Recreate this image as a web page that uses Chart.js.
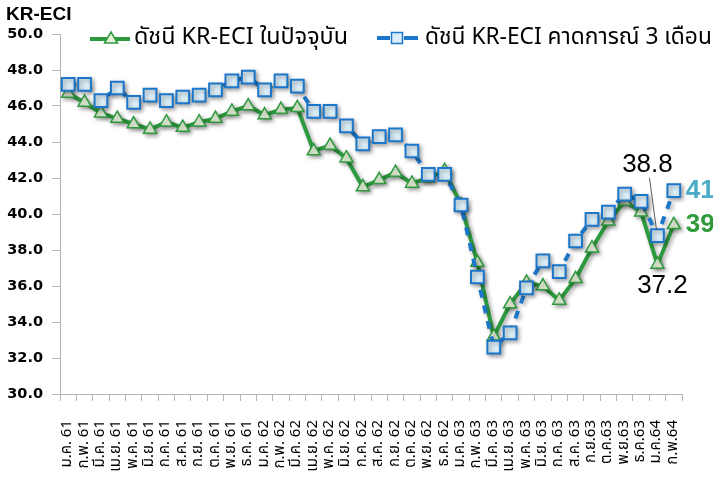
<!DOCTYPE html>
<html><head><meta charset="utf-8">
<script src="https://cdn.jsdelivr.net/npm/chart.js@4.4.1/dist/chart.umd.min.js"></script>
<style>html,body{margin:0;padding:0;background:#fff;}#wrap{width:713px;height:477px;}</style>
</head><body><div id="wrap"><canvas id="c" width="713" height="477"></canvas></div>
<script>
const categories = ['ม.ค. 61','ก.พ. 61','มี.ค. 61','เม.ย. 61','พ.ค. 61','มิ.ย. 61','ก.ค. 61','ส.ค. 61','ก.ย. 61','ต.ค. 61','พ.ย. 61','ธ.ค. 61',
'ม.ค. 62','ก.พ. 62','มี.ค. 62','เม.ย. 62','พ.ค. 62','มิ.ย. 62','ก.ค. 62','ส.ค. 62','ก.ย. 62','ต.ค. 62','พ.ย. 62','ธ.ค. 62',
'ม.ค. 63','ก.พ. 63','มี.ค. 63','เม.ย. 63','พ.ค. 63','มิ.ย. 63','ก.ค. 63','ส.ค. 63','ก.ย.63','ต.ค.63','พ.ย.63','ธ.ค.63',
'ม.ค.64','ก.พ.64'];
const currentIndex = [46.7,46.2,45.6,45.3,45.0,44.7,45.1,44.8,45.1,45.3,45.7,46.0,45.5,45.8,45.9,43.5,43.8,43.1,41.5,41.9,42.3,41.7,42.0,42.4,40.5,37.3,33.2,35.0,36.2,36.0,35.2,36.4,38.1,39.6,40.7,40.1,37.2,39.4];
const forecastIndex = [47.2,47.2,46.3,47.0,46.2,46.6,46.3,46.5,46.6,46.9,47.4,47.6,46.9,47.4,47.1,45.7,45.7,44.9,43.9,44.3,44.4,43.5,42.2,42.2,40.5,36.5,32.6,33.4,35.9,37.4,36.8,38.5,39.7,40.1,41.1,40.7,38.8,41.3];
const yTicks = [30,32,34,36,38,40,42,44,46,48,50];
const seriesNames = ['ดัชนี KR-ECI ในปัจจุบัน','ดัชนี KR-ECI คาดการณ์ 3 เดือน'];
const axisTitle = 'KR-ECI';

const GREEN = '#2e9a3f', GREEN_FILL = '#e6f1d8';
const BLUE = '#1c76c9', BLUE_FILL = '#dbeef8';
const THAI = '"Noto Sans Thai","Noto Sans","Loma","Garuda",sans-serif';

function fitFont(ctx, text, target, weight, fam){
  ctx.font = weight + ' 20px ' + fam;
  const w = ctx.measureText(text).width;
  return 20 * target / w;
}

const shadowPlugin = {
  id: 'shadow',
  beforeDatasetsDraw(chart){ const c = chart.ctx; c.save(); c.shadowColor='rgba(0,0,0,0.35)'; c.shadowBlur=4; c.shadowOffsetX=2; c.shadowOffsetY=2; },
  afterDatasetsDraw(chart){ chart.ctx.restore(); }
};

const extras = {
  id: 'extras',
  afterDraw(chart){
    const c = chart.ctx;
    const xs = chart.scales.x, ys = chart.scales.y;
    c.save();
    c.fillStyle = '#000';
    c.font = 'bold 19px "Liberation Sans",Arial,sans-serif';
    c.textAlign = 'left'; c.textBaseline = 'middle';
    c.fillText(axisTitle, 6, 15);
    // legend 1
    c.lineWidth = 4; c.strokeStyle = GREEN; c.setLineDash([]);
    c.beginPath(); c.moveTo(90,39); c.lineTo(130,39); c.stroke();
    c.lineWidth = 1.5; c.fillStyle = GREEN_FILL;
    c.beginPath(); c.moveTo(111,32); c.lineTo(117.5,43); c.lineTo(104.5,43); c.closePath(); c.fill(); c.stroke();
    let fs = fitFont(c, seriesNames[0], 214, 'normal', THAI);
    c.font = fs.toFixed(2) + 'px ' + THAI; c.fillStyle = '#000';
    c.fillText(seriesNames[0], 134, 39);
    // legend 2
    c.lineWidth = 4; c.strokeStyle = BLUE;
    c.beginPath(); c.moveTo(377,38); c.lineTo(390,38); c.moveTo(404,38); c.lineTo(418,38); c.stroke();
    c.lineWidth = 1.5; c.fillStyle = BLUE_FILL;
    c.fillRect(391.5,32.5,11,11); c.strokeRect(391.5,32.5,11,11);
    fs = fitFont(c, seriesNames[1], 287, 'normal', THAI);
    c.font = fs.toFixed(2) + 'px ' + THAI; c.fillStyle = '#000';
    c.fillText(seriesNames[1], 425, 39);
    // annotations
    const n = categories.length;
    const xJan = xs.getPixelForValue(n-2), xFeb = xs.getPixelForValue(n-1);
    const yF = ys.getPixelForValue(forecastIndex[n-2]);
    const yC = ys.getPixelForValue(currentIndex[n-2]);
    c.strokeStyle = '#333'; c.lineWidth = 0.8;
    c.beginPath(); c.moveTo(xJan-8, yF-58); c.lineTo(xJan-1, yF-6); c.stroke();
    c.font = '26px "Liberation Sans Narrow","Arial Narrow",sans-serif';
    c.fillStyle = '#000'; c.textAlign = 'center';
    c.fillText(forecastIndex[n-2].toFixed(1), xJan-10, yF-71);
    c.fillText(currentIndex[n-2].toFixed(1), xJan+5, yC+21);
    c.font = 'bold 26px "Liberation Sans Narrow","Arial Narrow",sans-serif';
    c.textAlign = 'left';
    c.fillStyle = '#4bacc6';
    c.fillText(Math.round(forecastIndex[n-1]).toString(), xFeb+12, ys.getPixelForValue(forecastIndex[n-1]));
    c.fillStyle = '#2f9a3a';
    c.fillText(Math.round(currentIndex[n-1]).toString(), xFeb+12, ys.getPixelForValue(currentIndex[n-1]));
    c.restore();
  }
};

new Chart(document.getElementById('c'), {
  type: 'line',
  data: {
    labels: categories,
    datasets: [
      { label: seriesNames[1], data: forecastIndex, order: 0,
        borderColor: BLUE, borderWidth: 4, borderDash: [8,8], tension: 0,
        pointStyle: 'rect', pointRadius: 9, pointBorderWidth: 2,
        pointBackgroundColor: BLUE_FILL, pointBorderColor: BLUE },
      { label: seriesNames[0], data: currentIndex, order: 1,
        borderColor: GREEN, borderWidth: 4, tension: 0,
        pointStyle: 'triangle', pointRadius: 7.5, pointBorderWidth: 1.5,
        pointBackgroundColor: GREEN_FILL, pointBorderColor: GREEN }
    ]
  },
  options: {
    responsive: false, animation: false,
    layout: { padding: { top: 34, right: 31, bottom: 0, left: 0 } },
    plugins: { legend: { display: false }, tooltip: { enabled: false } },
    scales: {
      x: {
        offset: true,
        grid: { offset: true, drawOnChartArea: false, tickLength: 7, color: '#b5b5b5' },
        border: { color: '#b5b5b5' },
        ticks: { autoSkip: false, maxRotation: 90, minRotation: 90, padding: 19, color: '#000',
          font: { size: 15, family: THAI } },
        afterFit(s){ s.height = 83; }
      },
      y: {
        min: 30, max: 50,
        afterBuildTicks(s){ s.ticks = yTicks.map(v => ({ value: v })); },
        grid: { drawOnChartArea: false, tickLength: 8, color: '#b5b5b5' },
        border: { color: '#b5b5b5' },
        ticks: { padding: 9, color: '#000', font: { size: 14.5, weight: 'bold', family: '"DejaVu Sans",sans-serif' },
          callback: v => Number(v).toFixed(1) },
        afterFit(s){ s.width = 60; }
      }
    }
  },
  plugins: [shadowPlugin, extras]
});
</script></body></html>
